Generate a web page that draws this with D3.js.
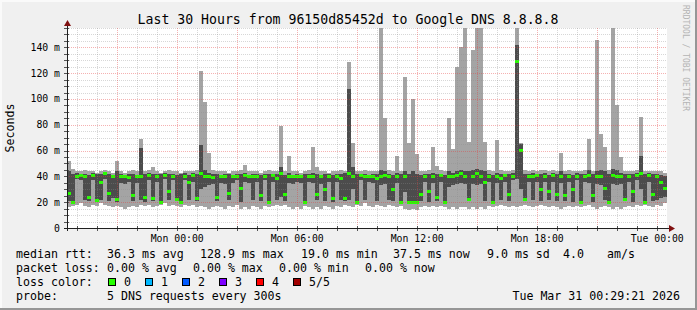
<!DOCTYPE html>
<html><head><meta charset="utf-8">
<script src="https://cdn.jsdelivr.net/npm/d3@7"></script>
<style>
body{margin:0;background:#f0f0f0}
svg{display:block}
text{font-family:"DejaVu Sans Mono",monospace}
</style>
</head><body><svg id="c" width="697" height="310"></svg>
<script>
// ---------- data ----------
const title = "Last 30 Hours from 96150d85452d to Google DNS 8.8.8.8";
const startTime = "2026-03-29T18:29:21Z";
const endTime = "2026-03-31T00:29:21Z";
const stepMinutes = 12;
const yTickValues = [0, 20, 40, 60, 80, 100, 120, 140];
const yTickLabels = ["0", "20 m", "40 m", "60 m", "80 m", "100 m", "120 m", "140 m"];
const xTickTimes = ["2026-03-30T00:00:00Z", "2026-03-30T06:00:00Z", "2026-03-30T12:00:00Z", "2026-03-30T18:00:00Z", "2026-03-31T00:00:00Z"];
const xTickLabels = ["Mon 00:00", "Mon 06:00", "Mon 12:00", "Mon 18:00", "Tue 00:00"];

// smoke: light band lo..hi, dark band dlo..dhi, median (ms)
const lo = [16,17,18,19,17,16,18,17,19,18, 17,16,17,16,15,16,17,16,18,17, 18,16,17,18,19,17,18,17,16,18,
            17,18,16,17,16,15,16,17,16,15, 17,16,18,15,16,15,17,16,15,17, 16,17,18,17,18,16,15,16,15,17,
            16,15,16,15,17,16,15,17,16,18, 17,16,18,17,19,17,16,18,17,16, 18,17,16,17,15,14,15,14,16,17,
            16,17,16,17,16,15,16,15,16,16, 15,16,15,16,15,17,16,17,18,17, 16,17,16,17,18,17,16,17,18,17,
            16,17,16,15,16,17,16,17,16,17, 18,16,15,16,17,16,15,16,15,16, 17,16,18,17,18,17,16,18,17,19];
const dlo = [21,20,38,37,22,21,37,20,22,38, 21,23,20,35,34,36,21,35,22,20, 37,21,36,21,38,22,37,21,20,37,
             22,36,21,30,32,33,34,21,35,34, 22,35,37,20,36,35,22,36,21,37, 20,36,22,24,21,35,34,36,35,21,
             36,35,22,34,21,36,20,36,22,21, 22,30,21,37,22,36,35,21,33,34, 22,21,35,20,28,20,20,20,21,36,
             20,35,21,36,20,32,33,34,35,34, 22,34,33,34,21,36,20,35,22,36, 21,37,38,30,21,36,22,36,21,36,
             22,36,21,35,21,36,20,37,21,36, 35,20,34,33,22,20,34,33,34,21, 36,20,37,30,21,36,21,22,23,24];
const dhi = [44,42,43,42,42,41,43,42,42,43, 42,41,44,42,41,42,42,41,62,42, 43,42,42,42,43,42,42,41,42,43,
             41,43,42,64,45,43,42,42,41,42, 42,41,42,42,43,41,42,42,41,42, 42,42,42,47,41,43,41,42,41,42,
             42,43,42,41,42,42,41,42,42,43, 108,47,42,42,42,41,42,42,45,44, 42,41,43,42,44,42,44,42,41,42,
             42,43,42,42,41,44,43,44,45,44, 44,45,46,45,44,42,41,43,42,42, 42,43,142,65,42,42,43,42,42,43,
             41,43,42,44,42,42,41,43,42,42, 45,42,44,45,44,42,46,45,43,42, 42,42,43,56,42,43,42,42,41,40];
const hi = [52,46,44,44,45,44,44,43,44,45, 44,43,52,44,43,44,45,44,69,44, 45,47,44,43,44,45,44,44,43,44,
            44,44,45,122,98,58,45,44,44,44, 43,44,44,45,49,44,44,44,43,44, 45,44,44,79,44,56,44,44,43,44,
            45,63,47,44,44,43,44,44,45,44, 129,66,44,44,45,44,44,44,170,85, 45,44,56,44,117,66,100,57,44,44,
            45,63,48,45,44,85,61,125,140,170, 67,138,170,170,67,45,44,68,45,44, 44,45,170,66,45,44,45,44,45,45,
            44,45,44,58,44,45,44,44,44,45, 69,44,146,73,63,45,170,95,55,44, 44,44,45,86,44,44,44,44,44,43];
const med = [27,20,40,41,40,24,41,21,35,42, 27,40,22,40,40,39,25,40,40,24, 41,23,40,20,41,28,40,22,20,40,
             35,41,23,42,40,40,39,24,40,40, 27,40,40,31,41,40,40,40,25,40, 20,41,38,42,26,40,40,40,40,20,
             40,40,26,40,30,40,23,40,38,23, 42,40,20,41,40,40,40,38,40,41, 40,30,40,20,40,20,20,20,26,40,
             28,40,24,41,20,40,40,41,42,40, 22,40,42,40,35,40,20,40,38,41, 26,40,129,60,22,40,40,41,30,40,
             28,41,26,40,25,40,30,40,20,40, 41,25,40,40,31,20,41,40,40,22, 40,28,41,42,20,41,26,40,35,31];

const legendRow1 = [["median rtt:", 16], ["36.3 ms avg", 107], ["128.9 ms max", 200], ["19.0 ms min", 301],
                    ["37.5 ms now", 393], ["9.0 ms sd", 487], ["4.0", 563], ["am/s", 607]];
const legendRow2 = [["packet loss:", 16], ["0.00 % avg", 107], ["0.00 % max", 193], ["0.00 % min", 279], ["0.00 % now", 365]];
const lossLabels = ["0", "1", "2", "3", "4", "5/5"];
const lossColors = ["#26ff00", "#00b8ff", "#0059ff", "#7e00ff", "#ff0000", "#a10000"];
const probeText = "5 DNS requests every 300s";
const dateText = "Tue Mar 31 00:29:21 2026";

// ---------- drawing ----------
const svg = d3.select("#c");
const W = 697, H = 310;
const X0 = 67, X1 = 667, Y0 = 228, Y1 = 28;
const t0 = new Date(startTime), t1 = new Date(endTime);
const x = d3.scaleUtc().domain([t0, t1]).range([X0, X1]);
const y = d3.scaleLinear().domain([0, 155]).range([Y0, Y1]);

// frame
svg.append("rect").attr("width", W).attr("height", H).attr("fill", "#f0f0f0");
svg.append("rect").attr("x", 0).attr("y", 0).attr("width", W).attr("height", 2).attr("fill", "#fafafa");
svg.append("rect").attr("x", 0).attr("y", 0).attr("width", 2).attr("height", H).attr("fill", "#fafafa");
svg.append("rect").attr("x", 0).attr("y", H - 2).attr("width", W).attr("height", 2).attr("fill", "#969696");
svg.append("rect").attr("x", W - 2).attr("y", 0).attr("width", 2).attr("height", H).attr("fill", "#969696");

// canvas
svg.append("rect").attr("x", X0).attr("y", Y1).attr("width", X1 - X0).attr("height", Y0 - Y1).attr("fill", "#ffffff");

svg.append("defs").append("clipPath").attr("id", "clip")
  .append("rect").attr("x", X0).attr("y", Y1).attr("width", X1 - X0).attr("height", Y0 - Y1);

const steps = d3.range(lo.length).map(i => ({
  a: new Date(t0.getTime() + i * stepMinutes * 60000),
  b: new Date(t0.getTime() + (i + 1) * stepMinutes * 60000),
  lo: lo[i], dlo: dlo[i], dhi: dhi[i], hi: hi[i], med: med[i]
}));

const g = svg.append("g").attr("clip-path", "url(#clip)").attr("shape-rendering", "crispEdges");
g.selectAll("rect.l").data(steps).join("rect").attr("class", "l")
  .attr("x", d => x(d.a)).attr("width", d => x(d.b) - x(d.a))
  .attr("y", d => y(d.hi)).attr("height", d => y(d.lo) - y(d.hi)).attr("fill", "#a4a4a4");
g.selectAll("rect.d").data(steps).join("rect").attr("class", "d")
  .attr("x", d => x(d.a)).attr("width", d => x(d.b) - x(d.a))
  .attr("y", d => y(d.dhi)).attr("height", d => y(d.dlo) - y(d.dhi)).attr("fill", "#4c4c4c");
g.selectAll("rect.m").data(steps).join("rect").attr("class", "m")
  .attr("x", d => x(d.a)).attr("width", d => x(d.b) - x(d.a))
  .attr("y", d => y(d.med) - 1.5).attr("height", 3).attr("fill", lossColors[0]);

// grid (over data like rrdtool)
const grid = svg.append("g").attr("shape-rendering", "crispEdges");
const minorY = d3.range(5, 156, 5).filter(v => v % 20 !== 0);
const majorY = d3.range(20, 156, 20);
grid.selectAll("line.my").data(minorY).join("line")
  .attr("x1", X0).attr("x2", X1).attr("y1", d => Math.round(y(d)) + 0.5).attr("y2", d => Math.round(y(d)) + 0.5)
  .attr("stroke", "rgba(140,140,140,0.35)").attr("stroke-dasharray", "1,1");
grid.selectAll("line.My").data(majorY).join("line")
  .attr("x1", X0).attr("x2", X1).attr("y1", d => Math.round(y(d)) + 0.5).attr("y2", d => Math.round(y(d)) + 0.5)
  .attr("stroke", "rgba(230,60,60,0.4)").attr("stroke-dasharray", "1,1");
const hours = d3.utcHour.range(t0, t1);
const minorX = hours.filter(h => h.getUTCHours() % 3 !== 0);
const majorX = hours.filter(h => h.getUTCHours() % 3 === 0);
grid.selectAll("line.mx").data(minorX).join("line")
  .attr("x1", d => Math.round(x(d)) + 0.5).attr("x2", d => Math.round(x(d)) + 0.5).attr("y1", Y1).attr("y2", Y0)
  .attr("stroke", "rgba(140,140,140,0.35)").attr("stroke-dasharray", "1,1");
grid.selectAll("line.Mx").data(majorX).join("line")
  .attr("x1", d => Math.round(x(d)) + 0.5).attr("x2", d => Math.round(x(d)) + 0.5).attr("y1", Y1).attr("y2", Y0)
  .attr("stroke", "rgba(230,60,60,0.4)").attr("stroke-dasharray", "1,1");

// ticks
const ax = svg.append("g").attr("shape-rendering", "crispEdges");
ax.selectAll("line.tx").data(hours).join("line")
  .attr("x1", d => Math.round(x(d)) + 0.5).attr("x2", d => Math.round(x(d)) + 0.5)
  .attr("y1", Y0 - 2).attr("y2", Y0 + (d => 0)(0) + 3).attr("stroke", "#555");
ax.selectAll("line.ty").data(d3.range(0, 156, 5)).join("line")
  .attr("x1", X0 - 3).attr("x2", X0 + 2).attr("y1", d => Math.round(y(d)) + 0.5).attr("y2", d => Math.round(y(d)) + 0.5)
  .attr("stroke", "#555");

// axes
ax.append("line").attr("x1", X0 - 3).attr("x2", X1 + 3).attr("y1", Y0 + 0.5).attr("y2", Y0 + 0.5).attr("stroke", "#202020");
ax.append("line").attr("x1", X0 + 0.5).attr("x2", X0 + 0.5).attr("y1", Y0 + 3).attr("y2", Y1 - 4).attr("stroke", "#202020");
svg.append("path").attr("d", `M${X1 + 2},${Y0 - 3} L${X1 + 8},${Y0 + 0.5} L${X1 + 2},${Y0 + 4} Z`).attr("fill", "#801010");
svg.append("path").attr("d", `M${X0 - 3},${Y1 - 2} L${X0 + 0.5},${Y1 - 8} L${X0 + 4},${Y1 - 2} Z`).attr("fill", "#801010");

// axis labels
svg.selectAll("text.yl").data(yTickValues).join("text")
  .attr("x", 60).attr("y", d => y(d) + 3.5).attr("text-anchor", "end")
  .attr("font-size", "9.8px").attr("fill", "#000").text((d, i) => yTickLabels[i]);
svg.selectAll("text.xl").data(xTickTimes).join("text")
  .attr("x", d => x(new Date(d))).attr("y", 241.5).attr("text-anchor", "middle")
  .attr("font-size", "9.8px").attr("fill", "#000").text((d, i) => xTickLabels[i]);

svg.append("text").attr("transform", "translate(14,128) rotate(-90)").attr("text-anchor", "middle")
  .attr("font-size", "11.6px").attr("fill", "#000").text("Seconds");
svg.append("text").attr("transform", "translate(683,5) rotate(90)").attr("text-anchor", "start")
  .attr("font-size", "8px").attr("fill", "#b4b4b4").text("RRDTOOL / TOBI OETIKER");

// title
svg.append("text").attr("x", 348).attr("y", 23.5).attr("text-anchor", "middle")
  .attr("font-size", "13.2px").attr("fill", "#000").text(title);

// legend
const lg = svg.append("g").attr("font-size", "11.6px").attr("fill", "#000");
lg.selectAll("text.r1").data(legendRow1).join("text").attr("x", d => d[1]).attr("y", 258).text(d => d[0]);
lg.selectAll("text.r2").data(legendRow2).join("text").attr("x", d => d[1]).attr("y", 272).text(d => d[0]);
lg.append("text").attr("x", 16).attr("y", 286).text("loss color:");
const sw = lg.selectAll("g.sw").data(lossLabels).join("g").attr("transform", (d, i) => `translate(${108 + i * 37},0)`);
sw.append("rect").attr("x", 0.5).attr("y", 278.5).attr("width", 7).attr("height", 7)
  .attr("fill", (d, i) => lossColors[i]).attr("stroke", "#000").attr("shape-rendering", "crispEdges");
sw.append("text").attr("x", 16).attr("y", 286).text(d => d);
lg.append("text").attr("x", 16).attr("y", 300).text("probe:");
lg.append("text").attr("x", 107).attr("y", 300).text(probeText);
lg.append("text").attr("x", 680).attr("y", 300).attr("text-anchor", "end").text(dateText);
</script>
</body></html>
